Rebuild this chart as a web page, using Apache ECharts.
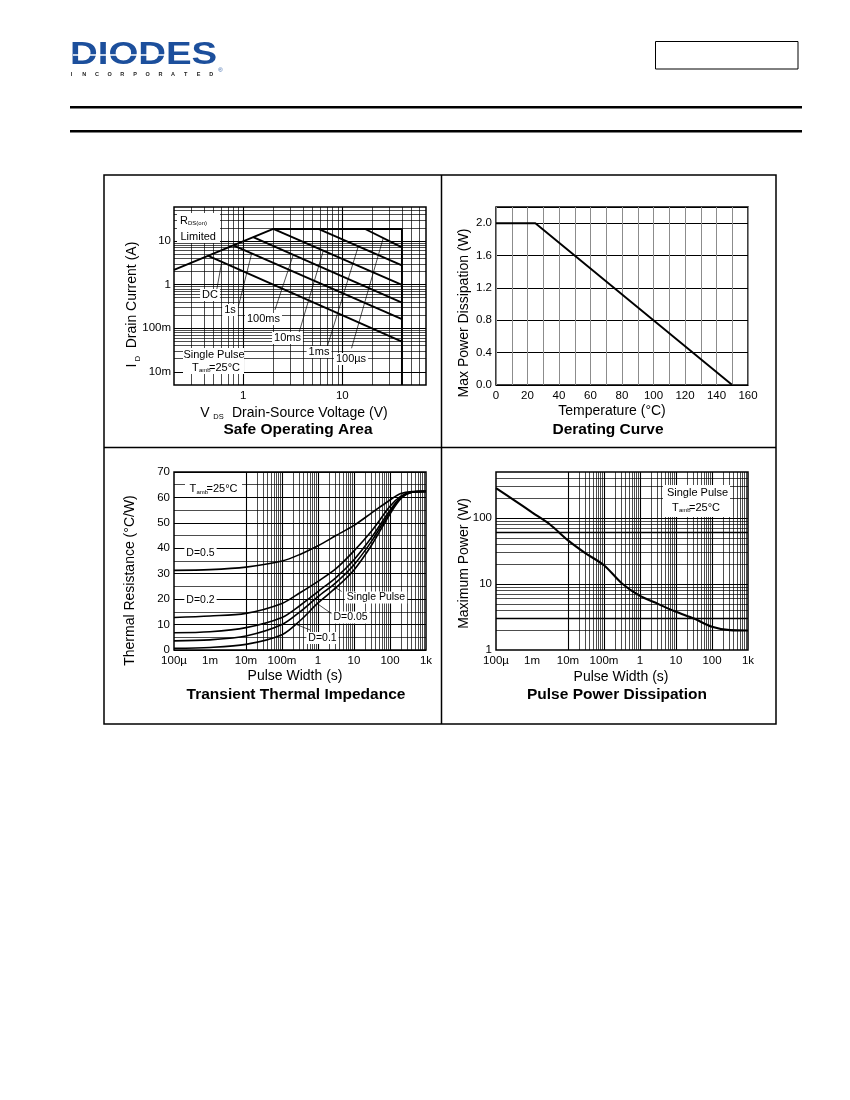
<!DOCTYPE html>
<html>
<head>
<meta charset="utf-8">
<script src="https://cdn.jsdelivr.net/npm/echarts@6/dist/echarts.min.js"></script>
<style>html,body{margin:0;padding:0;background:#fff}#c{width:850px;height:1100px}</style>
</head>
<body>
<div id="c"></div>
<script>
// ================= DATA =================
// Safe Operating Area (VDS [V], ID [A])
const soaXTickExp = [0, 1];
const soaXTickLabels = ['1', '10'];
const soaYTickExp = [-2, -1, 0, 1];
const soaYTickLabels = ['10m', '100m', '1', '10'];
const soaLimit = [[0.2, 2.18], [2.01, 18.8], [40, 18.8], [40, 0.005]];
const soaDC = [[0.444, 4.57], [40, 0.0493]];
const soa1s = [[0.794, 7.9], [40, 0.161]];
const soa100ms = [[1.26, 12.2], [40, 0.387]];
const soa10ms = [[2.01, 18.8], [40, 0.987]];
const soa1ms = [[5.73, 18.8], [40, 2.74]];
const soa100us = [[17, 18.8], [40, 7.09]];
const soaLeaders = [
  [[0.54, 0.757], [0.607, 3.33]],
  [[0.892, 0.313], [1.216, 5.16]],
  [[2.09, 0.263], [3.20, 4.81]],
  [[3.60, 0.0702], [6.43, 5.98]],
  [[6.97, 0.0348], [14.5, 7.48]],
  [[12.4, 0.0348], [25.9, 11.6]]
];

// Derating curve
const derTemp = [0, 25, 150];
const derPower = [2.0, 2.0, 0.0];

// Transient thermal impedance
const pulseTickExp = [-4, -3, -2, -1, 0, 1, 2, 3];
const pulseTickLabels = ['100\u00b5', '1m', '10m', '100m', '1', '10', '100', '1k'];
const zthPulse = [1e-4, 1e-3, 1e-2, 0.1, 0.316, 1, 3.16, 10, 31.6, 100, 200, 400, 1000];
const zthD05 = [31.3, 31.6, 32.6, 35.0, 37.6, 41.0, 45.0, 49.0, 54.0, 59.0, 61.5, 62.3, 62.4];
const zthD02 = [12.8, 13.4, 14.4, 18.3, 22.5, 27.0, 32.0, 39.0, 47.0, 56.5, 60.5, 62.2, 62.4];
const zthD01 = [6.8, 7.2, 8.8, 12.8, 17.5, 23.0, 28.5, 35.5, 44.5, 55.0, 60.0, 62.1, 62.4];
const zthD005 = [3.6, 4.0, 5.5, 10.0, 15.0, 21.0, 26.5, 33.5, 43.0, 54.3, 59.8, 62.0, 62.4];
const zthSingle = [0.7, 1.0, 2.2, 6.0, 11.5, 18.5, 24.5, 31.5, 41.5, 53.5, 59.5, 62.0, 62.4];
const zthLeaders = [
  [[4.55, 23.0], [2.56, 25.2]],
  [[2.66, 13.8], [0.92, 18.4]],
  [[0.6, 7.9], [0.206, 10.5]]
];

// Pulse power dissipation
const pwrYTickExp = [0, 1, 2];
const pwrYTickLabels = ['1', '10', '100'];
const pwrPulse = [1e-4, 3.16e-4, 1e-3, 3.16e-3, 1e-2, 3.16e-2, 0.1, 0.316, 1, 3.16, 10, 31.6, 100, 316, 1000];
const pwrMax = [285, 188, 122, 80, 46, 29, 19.3, 10.2, 6.6, 5.0, 3.8, 3.0, 2.25, 2.0, 1.98];

// ================= HELPERS =================
const FONT = '"Liberation Sans", Arial, Helvetica, sans-serif';
const zip = (xs, ys) => xs.map((x, i) => [x, ys[i]]);
function expFormatter(exps, labels) {
  return function (v) {
    const k = Math.log10(v);
    const r = Math.round(k);
    if (Math.abs(k - r) > 1e-6) return '';
    const i = exps.indexOf(r);
    return i >= 0 ? labels[i] : '';
  };
}
const MAJOR = { color: '#000', width: 1.1, type: 'solid' };
const MINOR = { color: '#000', width: 0.7, type: 'solid' };
const BOLD = { color: '#000', width: 1.4, type: 'solid' };
function logGrid(min, max, key) {
  const out = [];
  const d0 = Math.floor(Math.log10(min)), d1 = Math.ceil(Math.log10(max));
  for (let d = d0; d <= d1; d++) {
    for (let m = 1; m <= 9; m++) {
      const v = +(m * Math.pow(10, d)).toPrecision(6);
      if (v <= min * 1.0001 || v >= max * 0.9999) continue;
      out.push({ [key]: v, lineStyle: m === 1 ? MAJOR : MINOR });
    }
  }
  return out;
}
function leaders(list) {
  return list.map(p => [{ coord: p[0], lineStyle: { color: '#000', width: 0.7, type: 'solid' } }, { coord: p[1] }]);
}
function gridSeries(idx, data) {
  return {
    type: 'line', xAxisIndex: idx, yAxisIndex: idx, data: [], z: 1, silent: true,
    markLine: { silent: true, z: 1, symbol: ['none', 'none'], label: { show: false }, emphasis: { disabled: true },
      animation: false, data: data }
  };
}
function curve(idx, data, width, smooth) {
  return {
    type: 'line', xAxisIndex: idx, yAxisIndex: idx, data: data, z: 3,
    showSymbol: false, symbol: 'none', smooth: smooth || false,
    lineStyle: { color: '#000', width: width }, silent: true, animation: false
  };
}
const tickLabel = { color: '#000', fontSize: 11.5, fontFamily: FONT };
function T(x, y, s, size, o) {
  o = o || {};
  const st = { text: s, fontSize: size, fontFamily: FONT, fontWeight: o.bold ? 'bold' : 'normal',
    fill: o.fill || '#000', align: o.align || 'center', verticalAlign: 'middle' };
  if (o.bg) { st.backgroundColor = '#fff'; st.padding = [1, 2, 0, 2]; }
  const el = { type: 'text', x: x, y: y, z: 10, style: st };
  if (o.rot) el.rotation = o.rot;
  if (o.scaleX) el.scaleX = o.scaleX;
  return el;
}
function R(x, y, w, h, o) {
  o = o || {};
  return { type: 'rect', z: o.z || 8, shape: { x: x, y: y, width: w, height: h },
    style: { fill: o.fill === undefined ? '#fff' : o.fill, stroke: o.stroke || null, lineWidth: o.lw || 0 } };
}
function L(x1, y1, x2, y2, w) {
  return { type: 'line', z: 9, shape: { x1: x1, y1: y1, x2: x2, y2: y2 }, style: { stroke: '#000', lineWidth: w } };
}
function tamb(x, y) {
  return [T(x, y, 'T', 11, { align: 'left' }), T(x + 7, y + 3, 'amb', 6, { align: 'left' }), T(x + 17, y, '=25\u00b0C', 11, { align: 'left' })];
}

// ================= GRAPHIC =================
const g = [];
// header logo
g.push(T(70, 55.5, 'DIODES', 32, { bold: true, align: 'left', fill: '#1c4f9c', scaleX: 1.2 }));
g.push(R(73, 54.2, 92, 1.6, { z: 11 }));
'INCORPORATED'.split('').forEach((c, i) => g.push(T(71.5 + i * 12.7, 74, c, 5.5, { bold: true, fill: '#222' })));
g.push(T(220.5, 70.5, '\u00ae', 6, { fill: '#1c4f9c' }));
g.push(R(655.5, 41.5, 142.5, 27.5, { fill: 'none', stroke: '#000', lw: 1 }));
g.push(R(70, 106, 732, 2.6, { fill: '#000' }));
g.push(R(70, 130, 732, 2.6, { fill: '#000' }));
// figure frame
g.push(R(104, 175, 672, 549, { fill: 'none', stroke: '#000', lw: 1.5, z: 9 }));
g.push(L(441.5, 175, 441.5, 724, 1.5));
g.push(L(104, 447.5, 776, 447.5, 1.5));

// --- SOA texts ---
g.push(T(132, 295, 'Drain Current (A)', 14, { rot: Math.PI / 2 }));
g.push(T(132, 365.5, 'I', 14, { rot: Math.PI / 2 }));
g.push(T(137.5, 358.5, 'D', 7.5, { rot: Math.PI / 2 }));
g.push(T(205, 413, 'V', 14));
g.push(T(218.5, 417, 'DS', 7.5));
g.push(T(232, 413, 'Drain-Source Voltage (V)', 14, { align: 'left' }));
g.push(T(298, 430, 'Safe Operating Area', 15.5, { bold: true }));
g.push(R(177, 213, 43, 30));
g.push(T(180, 221, 'R', 11, { align: 'left' }));
g.push(T(188, 223.5, 'DS(on)', 6, { align: 'left' }));
g.push(T(180.5, 236.5, 'Limited', 11, { align: 'left' }));
g.push(T(210, 295, 'DC', 11, { bg: true }));
g.push(T(230, 310, '1s', 11, { bg: true }));
g.push(T(263.5, 319, '100ms', 11, { bg: true }));
g.push(T(287.5, 338, '10ms', 11, { bg: true }));
g.push(T(319, 352, '1ms', 11, { bg: true }));
g.push(T(351, 359, '100\u00b5s', 11, { bg: true }));
g.push(R(183, 348, 61, 26));
g.push(T(214, 355, 'Single Pulse', 11));
tamb(192, 367.5).forEach(e => g.push(e));

// --- Derating texts ---
g.push(T(464.5, 313, 'Max Power Dissipation (W)', 14, { rot: Math.PI / 2 }));
g.push(T(612, 411, 'Temperature (\u00b0C)', 14));
g.push(T(608, 430, 'Derating Curve', 15.5, { bold: true }));

// --- Thermal texts ---
g.push(T(130, 580.5, 'Thermal Resistance (\u00b0C/W)', 14, { rot: Math.PI / 2 }));
g.push(T(295, 676.5, 'Pulse Width (s)', 14));
g.push(T(296, 694.5, 'Transient Thermal Impedance', 15.5, { bold: true }));
g.push(R(185, 482, 57, 15));
tamb(189.5, 489).forEach(e => g.push(e));
g.push(T(200.5, 553, 'D=0.5', 10.5, { bg: true }));
g.push(T(200.5, 600.5, 'D=0.2', 10.5, { bg: true }));
g.push(T(376, 597.5, 'Single Pulse', 10.5, { bg: true }));
g.push(T(350.5, 617.5, 'D=0.05', 10.5, { bg: true }));
g.push(T(322.5, 638, 'D=0.1', 10.5, { bg: true }));

// --- Pulse power texts ---
g.push(T(464.5, 563.5, 'Maximum Power (W)', 14, { rot: Math.PI / 2 }));
g.push(T(621, 677.5, 'Pulse Width (s)', 14));
g.push(T(617, 695, 'Pulse Power Dissipation', 15.5, { bold: true }));
g.push(R(663, 485, 67, 32));
g.push(T(697.5, 493, 'Single Pulse', 11));
tamb(672, 507.5).forEach(e => g.push(e));

// ================= OPTION =================
const baseAxis = { axisLine: { show: false }, axisTick: { show: false } };
const option = {
  animation: false,
  backgroundColor: '#fff',
  grid: [
    { left: 174, top: 207, width: 252, height: 178, show: true, borderColor: '#000', borderWidth: 1.5 },
    { left: 496, top: 207, width: 252, height: 178, show: true, borderColor: '#000', borderWidth: 1.5 },
    { left: 174, top: 472, width: 252, height: 178, show: true, borderColor: '#000', borderWidth: 1.5 },
    { left: 496, top: 472, width: 252, height: 178, show: true, borderColor: '#000', borderWidth: 1.5 }
  ],
  xAxis: [
    Object.assign({}, baseAxis, { gridIndex: 0, type: 'log', logBase: 10, min: 0.2, max: 70, splitLine: { show: false },
      axisLabel: Object.assign({}, tickLabel, { margin: 5, customValues: soaXTickExp.map(e => Math.pow(10, e)), formatter: expFormatter(soaXTickExp, soaXTickLabels) }) }),
    Object.assign({}, baseAxis, { gridIndex: 1, type: 'value', min: 0, max: 160, interval: 20,
      splitLine: { show: true, lineStyle: { color: '#8c8c8c', width: 1 } },
      minorTick: { show: false, splitNumber: 2 },
      minorSplitLine: { show: true, lineStyle: { color: '#8c8c8c', width: 1 } },
      axisLabel: Object.assign({}, tickLabel, { margin: 5 }) }),
    Object.assign({}, baseAxis, { gridIndex: 2, type: 'log', logBase: 10, min: 1e-4, max: 1000, splitLine: { show: false },
      axisLabel: Object.assign({}, tickLabel, { margin: 5, customValues: pulseTickExp.map(e => Math.pow(10, e)), formatter: expFormatter(pulseTickExp, pulseTickLabels) }) }),
    Object.assign({}, baseAxis, { gridIndex: 3, type: 'log', logBase: 10, min: 1e-4, max: 1000, splitLine: { show: false },
      axisLabel: Object.assign({}, tickLabel, { margin: 5, customValues: pulseTickExp.map(e => Math.pow(10, e)), formatter: expFormatter(pulseTickExp, pulseTickLabels) }) })
  ],
  yAxis: [
    Object.assign({}, baseAxis, { gridIndex: 0, type: 'log', logBase: 10, min: 0.005, max: 60, splitLine: { show: false },
      axisLabel: Object.assign({}, tickLabel, { margin: 3, customValues: soaYTickExp.map(e => Math.pow(10, e)), formatter: expFormatter(soaYTickExp, soaYTickLabels) }) }),
    Object.assign({}, baseAxis, { gridIndex: 1, type: 'value', min: 0, max: 2.2, interval: 0.4,
      splitLine: { show: true, lineStyle: { color: '#000', width: 1 } },
      axisLabel: Object.assign({}, tickLabel, { margin: 4, formatter: v => (v > 2.05 ? '' : v.toFixed(1)) }) }),
    Object.assign({}, baseAxis, { gridIndex: 2, type: 'value', min: 0, max: 70, interval: 10,
      splitLine: { show: true, lineStyle: { color: '#000', width: 1.1 } },
      minorTick: { show: false, splitNumber: 2 },
      minorSplitLine: { show: true, lineStyle: { color: '#000', width: 0.7 } },
      axisLabel: Object.assign({}, tickLabel, { margin: 4 }) }),
    Object.assign({}, baseAxis, { gridIndex: 3, type: 'log', logBase: 10, min: 1, max: 500, splitLine: { show: false },
      axisLabel: Object.assign({}, tickLabel, { margin: 4, customValues: pwrYTickExp.map(e => Math.pow(10, e)), formatter: expFormatter(pwrYTickExp, pwrYTickLabels) }) })
  ],
  series: [
    gridSeries(0, logGrid(0.2, 70, 'xAxis').concat(logGrid(0.005, 60, 'yAxis'), leaders(soaLeaders))),
    curve(0, soaLimit, 1.9), curve(0, soaDC, 1.9), curve(0, soa1s, 1.9), curve(0, soa100ms, 1.9),
    curve(0, soa10ms, 1.9), curve(0, soa1ms, 1.9), curve(0, soa100us, 1.9),
    curve(1, zip(derTemp, derPower), 1.9),
    gridSeries(2, logGrid(1e-4, 1000, 'xAxis').concat(leaders(zthLeaders))),
    curve(2, zip(zthPulse, zthD05), 1.6, 0.3), curve(2, zip(zthPulse, zthD02), 1.6, 0.3),
    curve(2, zip(zthPulse, zthD01), 1.6, 0.3), curve(2, zip(zthPulse, zthD005), 1.6, 0.3),
    curve(2, zip(zthPulse, zthSingle), 1.6, 0.3),
    gridSeries(3, logGrid(1e-4, 1000, 'xAxis').concat(logGrid(1, 500, 'yAxis'), [{ yAxis: 3, lineStyle: BOLD }, { yAxis: 60, lineStyle: BOLD }])),
    curve(3, zip(pwrPulse, pwrMax), 2.1, 0.3)
  ],
  graphic: { elements: g }
};
const chart = echarts.init(document.getElementById('c'), null, { renderer: 'canvas', width: 850, height: 1100 });
chart.setOption(option);
</script>
</body>
</html>
